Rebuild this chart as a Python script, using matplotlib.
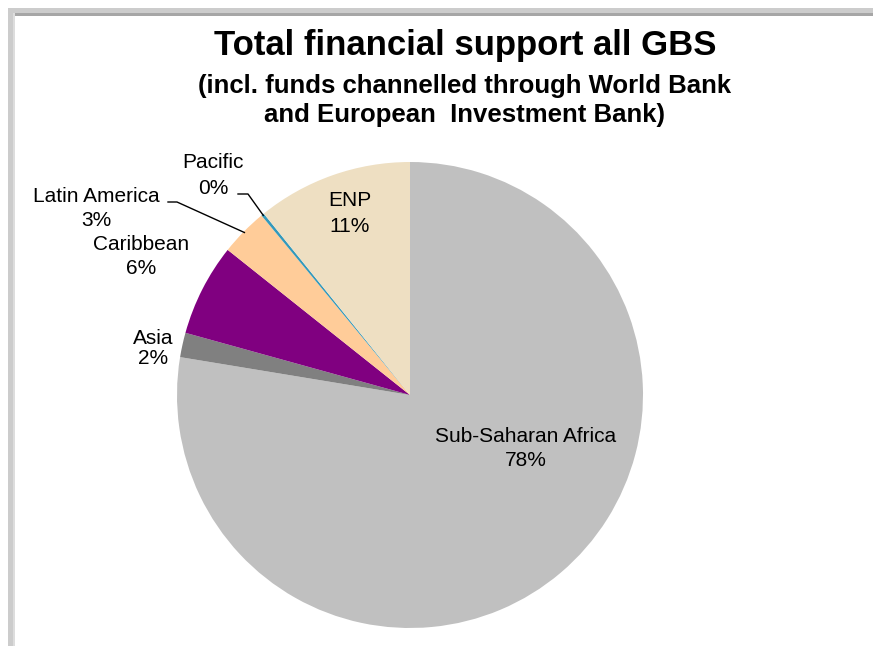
import matplotlib.pyplot as plt
import numpy as np
from matplotlib.patches import Rectangle

plt.rcParams['font.family'] = ['Liberation Sans', 'DejaVu Sans']

# share of total GBS support per region (%)
regions = ['Sub-Saharan Africa', 'Asia', 'Caribbean', 'Latin America', 'Pacific', 'ENP']
shares = [77.6, 1.7, 6.4, 3.3, 0.2, 10.8]
pct_labels = ['78%', '2%', '6%', '3%', '0%', '11%']
colors = ['#C0C0C0', '#808080', '#800080', '#FFCC99', '#3399BB', '#EEDFC2']

W, H = 873, 646
fig = plt.figure(figsize=(W / 100, H / 100), dpi=100)
ax = fig.add_axes([0, 0, 1, 1])

cx, cy, R = 410, H - 395, 233
wedges, _ = ax.pie(shares, colors=colors, startangle=90, counterclock=False,
                   center=(cx, cy), radius=R, frame=True,
                   wedgeprops=dict(linewidth=0))
ax.set_xlim(0, W)
ax.set_ylim(0, H)
ax.set_aspect('equal')
ax.axis('off')

# chart frame (top and left edges)
ax.add_patch(Rectangle((8, H - 13), W, 5, color='#CCCCCC', lw=0))
ax.add_patch(Rectangle((13, H - 16), W, 3, color='#A6A6A6', lw=0))
ax.add_patch(Rectangle((8, 0), 5, H - 8, color='#CCCCCC', lw=0))
ax.add_patch(Rectangle((13, 0), 2, H - 13, color='#DDDDDD', lw=0))

# titles
ax.text(465, H - 45, 'Total financial support all GBS', ha='center', va='center',
        fontsize=25, fontweight='bold')
ax.text(465, H - 86, '(incl. funds channelled through World Bank', ha='center',
        va='center', fontsize=18.5, fontweight='bold')
ax.text(465, H - 115, 'and European  Investment Bank)', ha='center',
        va='center', fontsize=18.5, fontweight='bold')

# label centres (name line, pct line) in pixels from the top
label_pos = {
    'Sub-Saharan Africa': (526, 436, 461),
    'Asia': (153, 338, 358),
    'Caribbean': (141, 245, 269),
    'Latin America': (96, 196, 220),
    'Pacific': (213, 163, 188),
    'ENP': (350, 201, 226),
}
for name, pct in zip(regions, pct_labels):
    x, y1, y2 = label_pos[name]
    ax.text(x, H - y1, name, ha='center', va='center', fontsize=15)
    ax.text(x, H - y2, pct, ha='center', va='center', fontsize=15)

# leader lines for the thin slices
leaders = {'Latin America': (168, 202, 177), 'Pacific': (238, 194, 248)}
for w, name in zip(wedges, regions):
    if name not in leaders:
        continue
    x0, y0, x1 = leaders[name]
    mid = np.deg2rad((w.theta1 + w.theta2) / 2)
    ex, ey = cx + (R - 1) * np.cos(mid), cy + (R - 1) * np.sin(mid)
    ax.plot([x0, x1, ex], [H - y0, H - y0, ey], color='black', lw=1)

fig.savefig('out.png', dpi=100)
